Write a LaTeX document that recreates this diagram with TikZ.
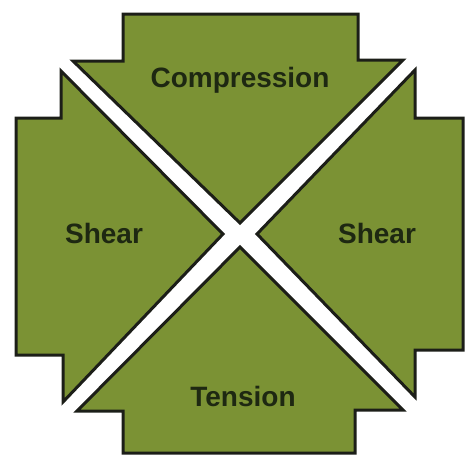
\documentclass[tikz,border=0pt]{standalone}
\usepackage{fontspec}
\setmainfont{Liberation Sans}
\definecolor{piecegreen}{RGB}{123,146,52}
\definecolor{edgedark}{RGB}{28,30,24}
\definecolor{labeldark}{RGB}{30,40,18}
\begin{document}
\begin{tikzpicture}[x=1pt,y=-1pt,
  piece/.style={fill=piecegreen,draw=edgedark,line width=3pt,line join=miter},
  lbl/.style={text=labeldark,font=\fontsize{28}{30}\selectfont\bfseries,inner sep=0pt,anchor=base}]
\useasboundingbox (0,0) rectangle (471,456);
% top piece
\draw[piece] (123,14) -- (358,14) -- (358,60) -- (403,60) -- (240,223) -- (73,61) -- (123,61) -- cycle;
% left piece
\draw[piece] (61,71) -- (61,118) -- (16,118) -- (16,355) -- (63,355) -- (63,402) -- (223,234) -- cycle;
% right piece
\draw[piece] (415,70) -- (415,118) -- (463,118) -- (463,350) -- (415,350) -- (415,397) -- (257,234) -- cycle;
% bottom piece
\draw[piece] (240,247) -- (403,410) -- (355,410) -- (355,453) -- (123,453) -- (123,411) -- (77,411) -- cycle;
\node[lbl] (comp) at (240,87) {Compression};
\node[lbl] (shl) at (104,243) {Shear};
\node[lbl] (shr) at (377,243) {Shear};
\node[lbl] (ten) at (243,406) {Tension};
\end{tikzpicture}
\end{document}
